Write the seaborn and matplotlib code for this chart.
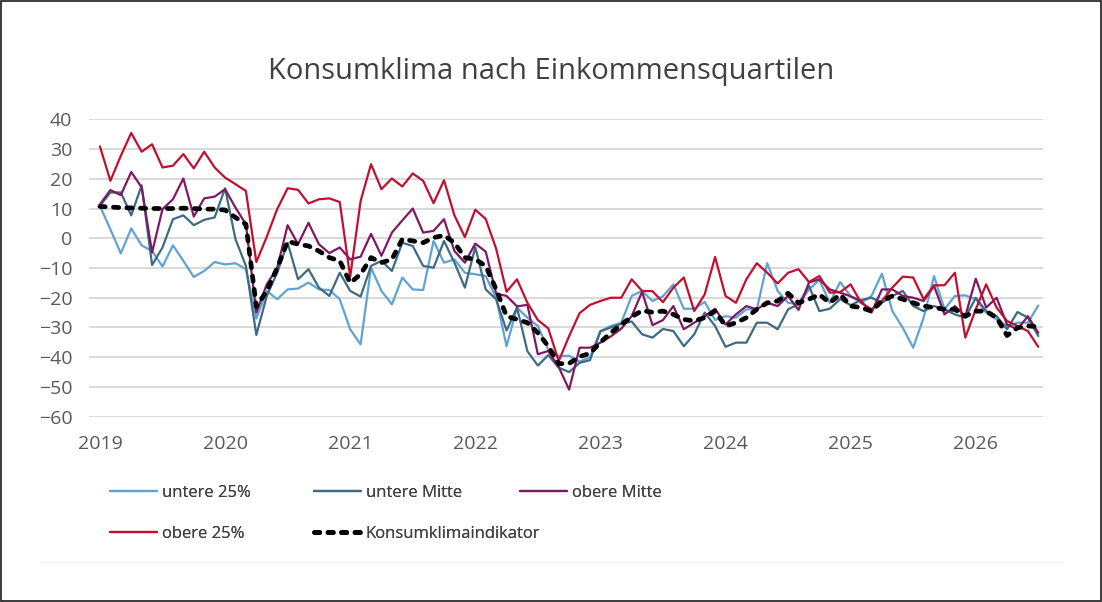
import matplotlib
matplotlib.use("Agg")
import matplotlib.pyplot as plt
import seaborn as sns
import pandas as pd
from matplotlib.lines import Line2D
from matplotlib.patches import Rectangle

# monthly values Jan 2019 .. Jul 2026
years = ["2019", "2020", "2021", "2022", "2023", "2024", "2025", "2026"]

untere_25 = [10.9, 3.0, -5.1, 3.3, -2.4, -4.3, -9.5, -2.4, -7.6, -13.0, -11.0, -8.0,
             -8.8, -8.4, -10.4, -27.0, -17.7, -20.5, -17.2, -16.9, -14.9, -17.2, -17.4, -20.5,
             -30.6, -35.7, -9.9, -17.7, -22.2, -13.2, -17.2, -17.4, -0.9, -8.2, -7.1, -11.6,
             -12.1, -12.7, -20.0, -36.3, -23.3, -26.7, -29.5, -37.4, -39.6, -39.5, -41.5, -40.0,
             -31.2, -29.5, -28.4, -19.4, -17.7, -21.1, -19.5, -15.5, -23.7, -23.7, -21.4, -27.5,
             -26.2, -26.7, -23.9, -23.9, -8.4, -17.7, -21.7, -22.2, -17.2, -14.0, -21.7, -14.7,
             -19.5, -21.7, -19.4, -11.9, -24.5, -30.1, -36.8, -26.7, -12.7, -23.9, -19.4, -19.2,
             -20.5, -25.0, -27.3, -29.5, -28.4, -28.4, -22.6]

untere_mitte = [10.9, 15.4, 15.4, 7.7, 17.8, -9.0, -3.1, 6.4, 7.7, 4.4, 6.2, 7.0,
                16.8, -0.3, -9.3, -32.5, -19.4, -11.6, -1.5, -13.8, -10.4, -16.6, -19.4, -11.6,
                -17.7, -19.6, -9.3, -7.6, -11.0, -1.5, -2.6, -9.3, -9.9, -0.9, -8.2, -16.6,
                -3.0, -17.2, -20.5, -31.0, -23.3, -38.0, -42.8, -39.3, -43.5, -45.0, -41.9, -41.0,
                -31.3, -30.0, -28.8, -28.0, -32.3, -33.4, -30.5, -31.2, -36.3, -32.3, -25.0, -29.5,
                -36.5, -35.1, -35.1, -28.4, -28.4, -30.6, -23.9, -22.2, -16.0, -24.5, -23.7, -20.5,
                -22.5, -20.8, -20.0, -21.7, -19.4, -17.7, -22.8, -24.5, -22.8, -23.9, -25.6, -26.7,
                -20.0, -24.5, -26.2, -30.6, -24.8, -26.7, -32.9]

obere_mitte = [11.4, 16.2, 14.5, 22.3, 17.1, -4.8, 9.8, 13.1, 20.1, 7.3, 13.4, 14.0,
               16.5, 10.3, 4.7, -25.0, -15.5, -10.0, 4.4, -2.0, 5.2, -2.0, -5.0, -3.1,
               -7.1, -6.2, 1.5, -5.9, 1.9, 6.0, 10.0, 1.9, 2.5, 6.4, -4.3, -8.2,
               -1.8, -4.5, -18.6, -19.4, -22.9, -22.4, -39.0, -37.9, -43.3, -50.9, -36.8, -36.8,
               -35.1, -33.0, -30.4, -26.2, -18.0, -29.2, -27.5, -22.8, -30.6, -28.4, -26.2, -23.7,
               -29.0, -25.6, -22.8, -23.9, -21.7, -22.8, -19.4, -24.1, -14.9, -13.8, -17.2, -18.3,
               -19.5, -21.1, -25.0, -17.2, -17.2, -19.4, -20.0, -21.1, -16.0, -25.6, -22.8, -26.2,
               -13.6, -23.3, -20.0, -29.0, -30.6, -26.2, -31.8]

obere_25 = [30.9, 19.3, 27.7, 35.4, 29.1, 31.6, 23.8, 24.4, 28.3, 23.5, 29.1, 23.8,
            20.4, 18.2, 15.9, -8.0, 0.5, 9.8, 16.8, 16.3, 11.7, 13.1, 13.4, 12.2,
            -13.0, 12.5, 24.9, 16.5, 20.1, 17.4, 21.8, 19.3, 11.8, 19.5, 7.7, 0.4,
            9.6, 6.5, -3.5, -18.0, -13.8, -21.7, -27.5, -30.3, -41.3, -32.9, -25.2, -22.4,
            -21.1, -20.0, -20.0, -13.8, -17.7, -17.8, -21.5, -16.6, -13.2, -24.5, -18.9, -6.3,
            -19.4, -21.7, -13.8, -8.4, -11.6, -15.2, -11.6, -10.4, -14.7, -12.7, -18.3, -18.1,
            -15.5, -21.7, -23.9, -21.1, -16.6, -12.9, -13.2, -20.5, -15.8, -15.8, -11.6, -33.4,
            -23.9, -15.5, -23.3, -27.8, -29.5, -31.2, -36.5]

konsumklima = [10.7, 10.5, 10.3, 10.2, 10.1, 10.0, 10.0, 10.0, 10.1, 10.0, 9.8, 9.8,
               9.5, 7.0, 4.7, -23.0, -17.7, -10.0, -1.0, -2.0, -2.6, -4.3, -6.5, -7.6,
               -15.0, -12.1, -6.5, -8.2, -7.1, -0.3, -0.9, -1.5, 0.2, 1.0, -1.5, -6.5,
               -7.1, -9.3, -17.2, -26.2, -27.3, -28.4, -31.8, -36.3, -42.2, -42.1, -39.8, -38.7,
               -35.0, -31.8, -29.0, -26.4, -24.3, -24.9, -24.5, -25.6, -27.3, -27.8, -26.7, -24.5,
               -29.5, -28.4, -26.7, -23.9, -21.7, -21.1, -18.5, -21.7, -20.5, -18.9, -21.7, -18.9,
               -22.8, -23.3, -24.5, -21.1, -19.4, -20.5, -21.7, -22.8, -23.3, -23.9, -23.9, -26.2,
               -24.5, -24.5, -26.7, -32.7, -30.1, -29.5, -29.7]

series = [("untere 25%", untere_25, "#5fa3d3", 1.6),
          ("untere Mitte", untere_mitte, "#3f6a84", 1.6),
          ("obere Mitte", obere_mitte, "#7c1b64", 1.6),
          ("obere 25%", obere_25, "#c01030", 1.6),
          ("Konsumklimaindikator", konsumklima, "#000000", 3.4)]

sns.set_style("white")
plt.rcParams['font.family'] = ['Open Sans', 'DejaVu Sans']

fig = plt.figure(figsize=(11.02, 6.02), dpi=100)
ax = fig.add_axes([89 / 1102, 1 - 416.7 / 602, (1043 - 89) / 1102, (416.7 - 119.3) / 602])

months = list(range(len(konsumklima)))
handles = []
for name, vals, col, lw in series:
    df = pd.DataFrame({'month': months, 'value': vals})
    if name == "Konsumklimaindikator":
        sns.lineplot(data=df, x='month', y='value', ax=ax, color=col, linewidth=lw,
                     linestyle=(0, (1.12, 1.74)), dash_capstyle='round', legend=False)
    else:
        sns.lineplot(data=df, x='month', y='value', ax=ax, color=col, linewidth=lw, legend=False)
    handles.append(ax.lines[-1])

ax.set_xlim(-1.05, 90.45)
ax.set_ylim(-60, 40)
ax.set_yticks(range(-60, 41, 10))
ax.set_xticks(range(0, 85, 12))
ax.set_xticklabels(years)
ax.set_xlabel("")
ax.set_ylabel("")
ax.yaxis.grid(True, color="#d0d0d0", linewidth=1.1)
ax.xaxis.grid(False)
ax.set_axisbelow(True)
for sp in ax.spines.values():
    sp.set_visible(False)
ax.tick_params(axis='both', length=0, colors="#595959", labelsize=14)
ax.tick_params(axis='y', pad=12)
ax.tick_params(axis='x', pad=13)

fig.text(0.5, 1 - 72 / 602, "Konsumklima nach Einkommensquartilen", ha='center', va='center',
         fontsize=21, color="#404040")

# legend: three equally spaced columns, two rows
pos = [(110, 493), (314, 493), (520, 493), (110, 534), (314, 534)]
for (name, vals, col, lw), h, (px, py) in zip(series, handles, pos):
    leg = fig.legend([h], [name], loc='center left', bbox_to_anchor=(px / 1102, 1 - py / 602),
                     frameon=False, fontsize=12, handlelength=2.8, handletextpad=0.3,
                     borderpad=0, borderaxespad=0, labelcolor="#404040")
    fig.add_artist(leg)

fig.add_artist(Line2D([40 / 1102, 1062 / 1102], [1 - 562 / 602, 1 - 562 / 602],
                      color="#f2f2f2", linewidth=1.0))
fig.add_artist(Rectangle((0.0008, 0.0012), 0.9984, 0.9976, transform=fig.transFigure,
                         fill=False, edgecolor="#1a1a1a", linewidth=1.2))

fig.savefig("out.png", dpi=100)
